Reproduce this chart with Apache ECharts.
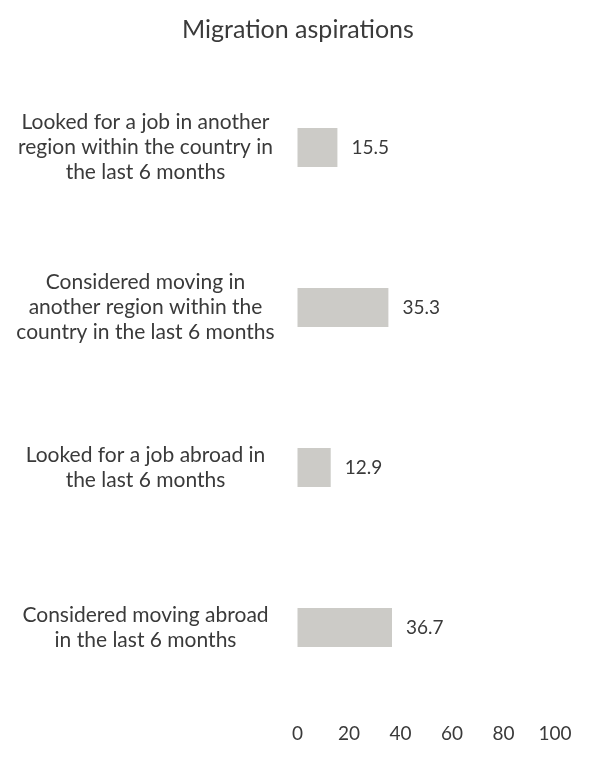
<!DOCTYPE html>
<html>
<head>
<meta charset="utf-8">
<script src="https://cdn.jsdelivr.net/npm/echarts@6/dist/echarts.min.js"></script>
<style>
  html, body { margin: 0; padding: 0; background: #ffffff; }
  #chart { width: 605px; height: 761px; }
</style>
</head>
<body>
<div id="chart"></div>
<script>
// Survey items (top to bottom), wrapped as they are printed
const categories = [
  'Looked for a job in another\nregion within the country in\nthe last 6 months',
  'Considered moving in\nanother region within the\ncountry in the last 6 months',
  'Looked for a job abroad in\nthe last 6 months',
  'Considered moving abroad\nin the last 6 months'
];
// Share of respondents, %
const values = [15.5, 35.3, 12.9, 36.7];
// Value axis ticks
const axisTicks = [0, 20, 40, 60, 80, 100];

const FONT = 'Lato, "Open Sans", sans-serif';
const TEXT = '#3a3a3a';

const chart = echarts.init(document.getElementById('chart'), null, { renderer: 'canvas' });
chart.setOption({
  backgroundColor: '#ffffff',
  animation: false,
  title: {
    text: 'Migration aspirations',
    left: 177,
    top: 12,
    textStyle: { fontFamily: FONT, fontSize: 25, fontWeight: 'normal', color: TEXT }
  },
  grid: { left: 297.5, right: 50, top: 67.5, bottom: 53.5, containLabel: false },
  xAxis: {
    type: 'value',
    min: axisTicks[0],
    max: axisTicks[axisTicks.length - 1],
    interval: axisTicks[1] - axisTicks[0],
    axisLine: { show: false },
    axisTick: { show: false },
    splitLine: { show: false },
    axisLabel: { margin: 17, fontFamily: FONT, fontSize: 19, color: TEXT }
  },
  yAxis: {
    type: 'category',
    inverse: true,
    data: categories,
    axisLine: { show: false },
    axisTick: { show: false },
    axisLabel: {
      margin: 152,
      align: 'center',
      fontFamily: FONT,
      fontSize: 21,
      lineHeight: 25,
      color: TEXT
    }
  },
  series: [{
    type: 'bar',
    data: values,
    barWidth: 39,
    itemStyle: { color: '#cccbc7' },
    label: {
      show: true,
      position: 'right',
      distance: 14,
      fontFamily: FONT,
      fontSize: 19,
      color: TEXT
    }
  }]
});
</script>
</body>
</html>
